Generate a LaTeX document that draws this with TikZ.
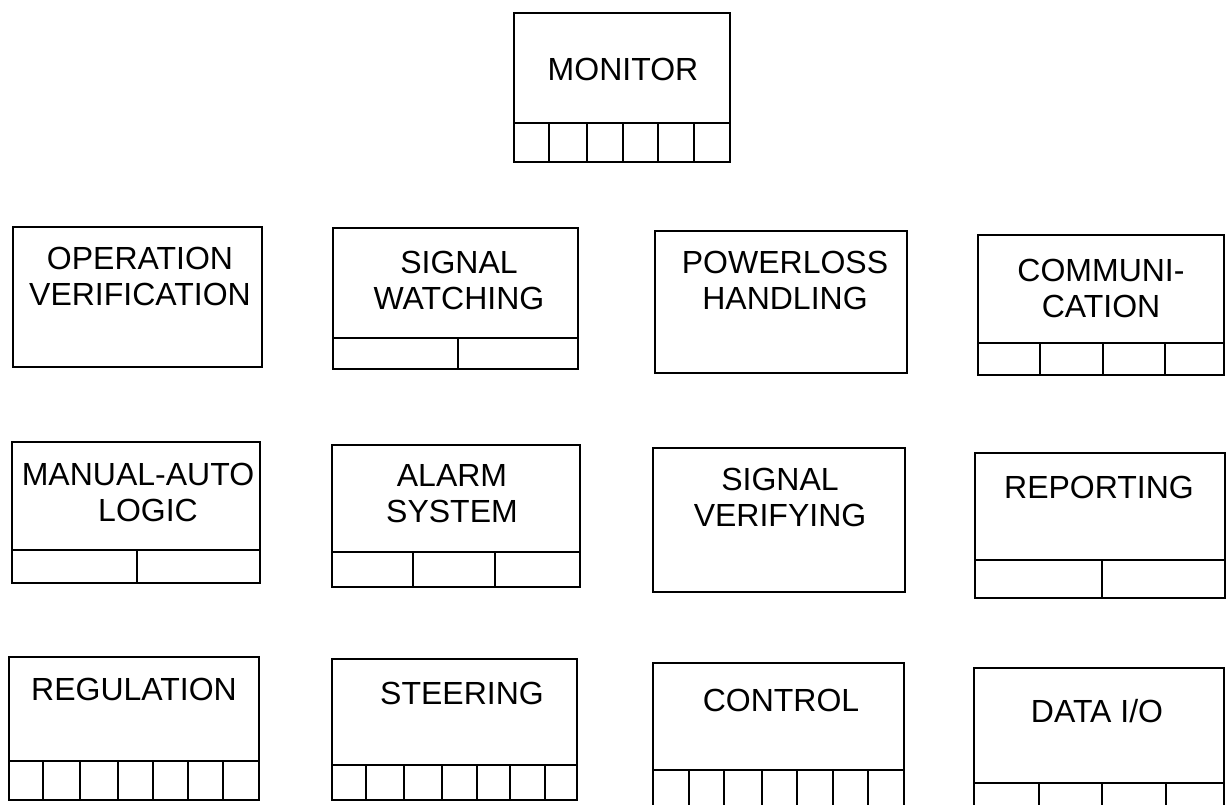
\documentclass[tikz,border=0pt]{standalone}
\usepackage{fontspec}
\setmainfont{Liberation Sans}
\begin{document}
\begin{tikzpicture}[x=1pt,y=-1pt,
  frame/.style={draw=black,line width=2.7pt,line cap=rect,line join=miter},
  lbl/.style={font=\fontsize{32}{36}\selectfont,align=center,inner sep=0pt,text=black}]
\useasboundingbox[fill=white] (0,0) rectangle (1227,805);
% MONITOR
\draw[frame] (514,13) rectangle (730,162);
\draw[frame] (514,123) -- (730,123);
\foreach \x in {549,587,623,658,694} \draw[frame] (\x,123) -- (\x,162);
\node[lbl] (monitor) at (623,69) {MONITOR};
% Row 1
\draw[frame] (13,227) rectangle (262,367);
\node[lbl] (opver) at (140,276) {OPERATION\\VERIFICATION};
\draw[frame] (333,228) rectangle (578,369);
\draw[frame] (333,338) -- (578,338);
\draw[frame] (458,338) -- (458,369);
\node[lbl] (sigwatch) at (459,280) {SIGNAL\\WATCHING};
\draw[frame] (655,231) rectangle (907,373);
\node[lbl] (power) at (785,280) {POWERLOSS\\HANDLING};
\draw[frame] (978,235) rectangle (1224,375);
\draw[frame] (978,343) -- (1224,343);
\foreach \x in {1040,1103,1165} \draw[frame] (\x,343) -- (\x,375);
\node[lbl] (comm) at (1101,288) {COMMUNI-\\CATION};
% Row 2
\draw[frame] (12,442) rectangle (260,583);
\draw[frame] (12,550) -- (260,550);
\draw[frame] (137,550) -- (137,583);
\node[lbl] (manual) at (138,492) {MANUAL-AUTO\\\hspace*{20pt}LOGIC};
\draw[frame] (332,445) rectangle (580,587);
\draw[frame] (332,552) -- (580,552);
\foreach \x in {413,495} \draw[frame] (\x,552) -- (\x,587);
\node[lbl] (alarm) at (452,494) {ALARM\\SYSTEM};
\draw[frame] (653,448) rectangle (905,592);
\node[lbl] (sigver) at (780,497) {SIGNAL\\VERIFYING};
\draw[frame] (975,453) rectangle (1225,598);
\draw[frame] (975,560) -- (1225,560);
\draw[frame] (1102,560) -- (1102,598);
\node[lbl] (report) at (1099,487) {REPORTING};
% Row 3
\draw[frame] (9,657) rectangle (259,800);
\draw[frame] (9,761) -- (259,761);
\foreach \x in {43,80,118,153,188,223} \draw[frame] (\x,761) -- (\x,800);
\node[lbl] (regul) at (134,689) {REGULATION};
\draw[frame] (332,659) rectangle (577,800);
\draw[frame] (332,765) -- (577,765);
\foreach \x in {366,404,442,477,510,545} \draw[frame] (\x,765) -- (\x,800);
\node[lbl] (steer) at (462,693) {STEERING};
\draw[frame] (653,810) -- (653,663) -- (904,663) -- (904,810);
\draw[frame] (653,770) -- (904,770);
\foreach \x in {689,724,762,797,833,868} \draw[frame] (\x,770) -- (\x,810);
\node[lbl] (control) at (781,700) {CONTROL};
\draw[frame] (974,810) -- (974,668) -- (1224,668) -- (1224,810);
\draw[frame] (974,783) -- (1224,783);
\foreach \x in {1039,1102,1166} \draw[frame] (\x,783) -- (\x,810);
\node[lbl] (dataio) at (1097,711) {DATA I/O};
\end{tikzpicture}
\end{document}
